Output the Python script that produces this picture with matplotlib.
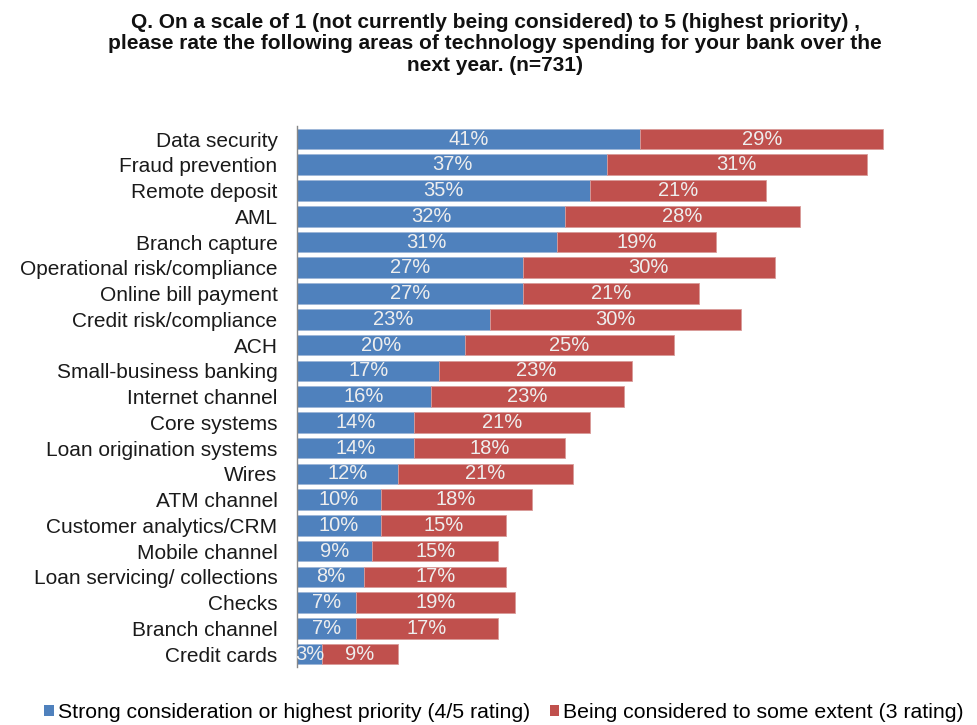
import matplotlib
matplotlib.use("Agg")
import matplotlib.pyplot as plt
from matplotlib.patches import Patch

plt.rcParams['font.family'] = ['Liberation Sans', 'DejaVu Sans']

categories = [
    "Data security", "Fraud prevention", "Remote deposit", "AML", "Branch capture",
    "Operational risk/compliance", "Online bill payment", "Credit risk/compliance",
    "ACH", "Small-business banking", "Internet channel", "Core systems",
    "Loan origination systems", "Wires", "ATM channel", "Customer analytics/CRM",
    "Mobile channel", "Loan servicing/ collections", "Checks", "Branch channel",
    "Credit cards",
]
high_priority = [41, 37, 35, 32, 31, 27, 27, 23, 20, 17, 16, 14, 14, 12, 10, 10, 9, 8, 7, 7, 3]
some_extent = [29, 31, 21, 28, 19, 30, 21, 30, 25, 23, 23, 21, 18, 21, 18, 15, 15, 17, 19, 17, 9]

series_names = [
    "Strong consideration or highest priority (4/5 rating)",
    "Being considered to some extent (3 rating)",
]
title = ("Q. On a scale of 1 (not currently being considered) to 5 (highest priority) ,\n"
         "please rate the following areas of technology spending for your bank over the\n"
         "next year. (n=731)")

BLUE = "#4F81BD"
RED = "#C0504D"
LABEL_COLOR = "#EEEEEE"

fig = plt.figure(figsize=(9.77, 7.25), dpi=100)
ax = fig.add_axes([297 / 977, 0.080, 1 - 297 / 977 - 0.01, 0.746])

y = list(range(len(categories)))
bh = 0.80
ax.barh(y, high_priority, height=bh, color=BLUE, edgecolor="#9DB6D8", linewidth=0.6)
ax.barh(y, some_extent, left=high_priority, height=bh, color=RED,
        edgecolor="#D89A98", linewidth=0.6)

for i, (a, b) in enumerate(zip(high_priority, some_extent)):
    ax.text(a / 2, i, f"{a}%", ha="center", va="center", color=LABEL_COLOR, fontsize=14.5)
    ax.text(a + b / 2, i, f"{b}%", ha="center", va="center", color=LABEL_COLOR, fontsize=14.5)

ax.set_ylim(len(categories) - 0.5, -0.5)
ax.set_xlim(0, 80)
ax.set_yticks(y)
ax.set_yticklabels(categories, fontsize=15, color="#1a1a1a")
ax.tick_params(axis="y", length=0, pad=14)
ax.set_xticks([])
for s in ["top", "right", "bottom"]:
    ax.spines[s].set_visible(False)
ax.spines["left"].set_color("#888888")
ax.spines["left"].set_linewidth(1.0)

fig.text(0.507, 0.982, title, ha="center", va="top", fontsize=15,
         fontweight="bold", linespacing=1.16, color="#111111")

handles = [Patch(facecolor=BLUE, label=series_names[0]),
           Patch(facecolor=RED, label=series_names[1])]
fig.legend(handles=handles, loc="lower center", bbox_to_anchor=(0.516, -0.022), ncol=2,
           frameon=False, fontsize=15.3, handlelength=0.45, handleheight=0.45,
           handletextpad=0.2, columnspacing=0.9)

fig.savefig("out.png", dpi=100)
